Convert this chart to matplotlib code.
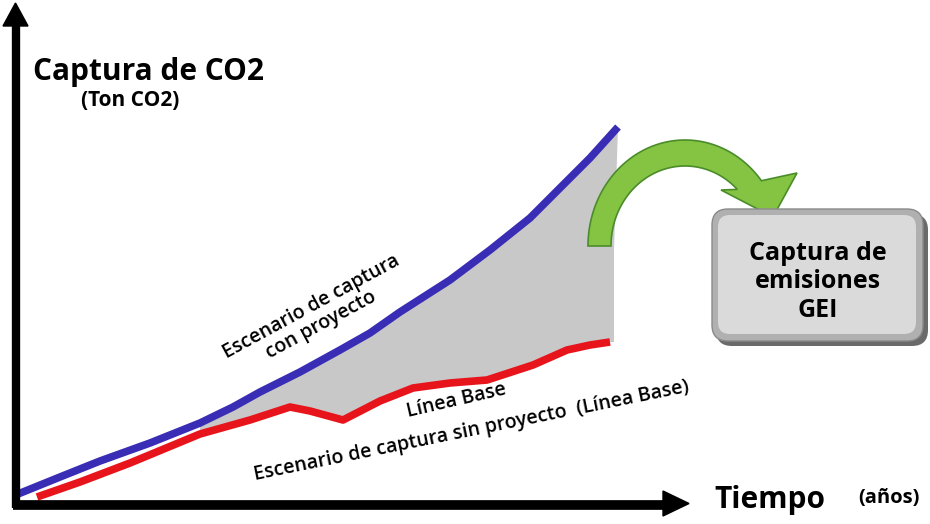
import matplotlib
matplotlib.use("Agg")
import matplotlib.pyplot as plt
import numpy as np
from matplotlib.patches import Polygon, FancyBboxPatch

# Curves (x = time position, y = capture level; pixel-like units, y grows downward)
blue_x = [18, 60, 100, 150, 200, 233, 260, 300, 340, 370, 400, 450, 490, 530, 560, 590, 618]
blue_y = [494, 477, 461, 443, 423, 407, 392, 372, 350, 333, 312, 280, 250, 218, 188, 158, 127]
red_x = [37, 80, 130, 200, 250, 290, 310, 343, 380, 413, 450, 487, 533, 567, 590, 610]
red_y = [497, 482, 463, 434, 420, 407, 411, 420, 401, 388, 383, 380, 365, 350, 345, 342]

y_label = "Captura de CO2"
y_unit = "(Ton CO2)"
x_label = "Tiempo"
x_unit = "(años)"
box_text = "Captura de\nemisiones\nGEI"
blue_text = "Escenario de captura\ncon proyecto"
red_text1 = "Línea Base"
red_text2 = "Escenario de captura sin proyecto  (Línea Base)"

FONT = "Open Sans"

fig = plt.figure(figsize=(9.30, 5.24), dpi=100)
ax = fig.add_axes([0, 0, 1, 1])
ax.set_xlim(0, 930)
ax.set_ylim(524, 0)
ax.axis("off")

# gray fill between curves
xs = np.linspace(200, 614, 300)
bi = np.interp(xs, blue_x, blue_y)
ri = np.interp(xs, red_x, red_y)
poly = np.vstack([np.column_stack([xs, bi]), np.column_stack([xs[::-1], ri[::-1]])])
ax.add_patch(Polygon(poly, closed=True, facecolor="#c8c8c8", edgecolor="none", zorder=1))
ax.add_patch(Polygon([[608, 342], [614, 134], [618, 127], [611, 342]], closed=True,
                     facecolor="#c8c8c8", edgecolor="none", zorder=1))

# lines
ax.plot(blue_x, blue_y, color="#3a2db5", lw=5.5, solid_capstyle="butt", zorder=3)
ax.plot(red_x, red_y, color="#e8141b", lw=5.5, solid_capstyle="butt", zorder=3)

# axes arrows
ax.plot([15.5, 15.5], [508, 24], color="black", lw=6, solid_capstyle="butt", zorder=4)
ax.add_patch(Polygon([[3, 26], [28, 26], [15.5, 3]], closed=True, color="black", zorder=4))
ax.plot([12.5, 665], [504.5, 504.5], color="black", lw=7, solid_capstyle="butt", zorder=4)
ax.add_patch(Polygon([[663, 491], [663, 516], [689, 503.5]], closed=True, color="black", zorder=4))

# titles
ax.text(33, 72, y_label, fontsize=21.5, fontweight="bold", family=FONT, va="center", ha="left")
ax.text(81, 100, y_unit, fontsize=15, fontweight="bold", family=FONT, va="center", ha="left")
ax.text(714, 500, x_label, fontsize=21.5, fontweight="bold", family=FONT, va="center", ha="left")
ax.text(858, 498, x_unit, fontsize=14.5, fontweight="bold", family=FONT, va="center", ha="left")

# rotated annotations
ax.text(316, 316, blue_text, fontsize=14, fontweight="semibold", family=FONT, rotation=28.5,
        ha="center", va="center", rotation_mode="anchor", linespacing=1.1)
ax.text(456, 401, red_text1, fontsize=14, fontweight="semibold", family=FONT, rotation=13,
        ha="center", va="center", rotation_mode="anchor")
ax.text(471, 431, red_text2, fontsize=14, fontweight="semibold", family=FONT, rotation=11.5,
        ha="center", va="center", rotation_mode="anchor")

# green curved arrow (elliptical band with triangular head)
cx, cy = 685, 246
to = np.radians(np.linspace(180, 38, 60))
ti = np.radians(np.linspace(45, 180, 60))
outer = np.column_stack([cx + 97 * np.cos(to), cy - 106 * np.sin(to)])
inner = np.column_stack([cx + 74 * np.cos(ti), cy - 80 * np.sin(ti)])
head = np.array([[797, 173], [773, 217], [721, 190]])
arrow_pts = np.vstack([outer, head, inner])
ax.add_patch(Polygon(arrow_pts, closed=True, facecolor="#84c442", edgecolor="#4a8c2a",
                     lw=1.2, zorder=5))

# box with shadowed border
ax.add_patch(FancyBboxPatch((716, 214), 212, 132, boxstyle="round,pad=0,rounding_size=16",
                            facecolor="#6a6a6a", edgecolor="none", zorder=5))
ax.add_patch(FancyBboxPatch((712, 209), 211, 132, boxstyle="round,pad=0,rounding_size=16",
                            facecolor="#b0b0b0", edgecolor="#8a8a8a", lw=1, zorder=6))
ax.add_patch(FancyBboxPatch((718, 215), 198, 119, boxstyle="round,pad=0,rounding_size=12",
                            facecolor="#dadada", edgecolor="none", zorder=7))
ax.text(818, 282, box_text, fontsize=18, fontweight="bold", family=FONT, ha="center", va="center",
        linespacing=1.2, zorder=8)

fig.savefig("out.png", dpi=100)
